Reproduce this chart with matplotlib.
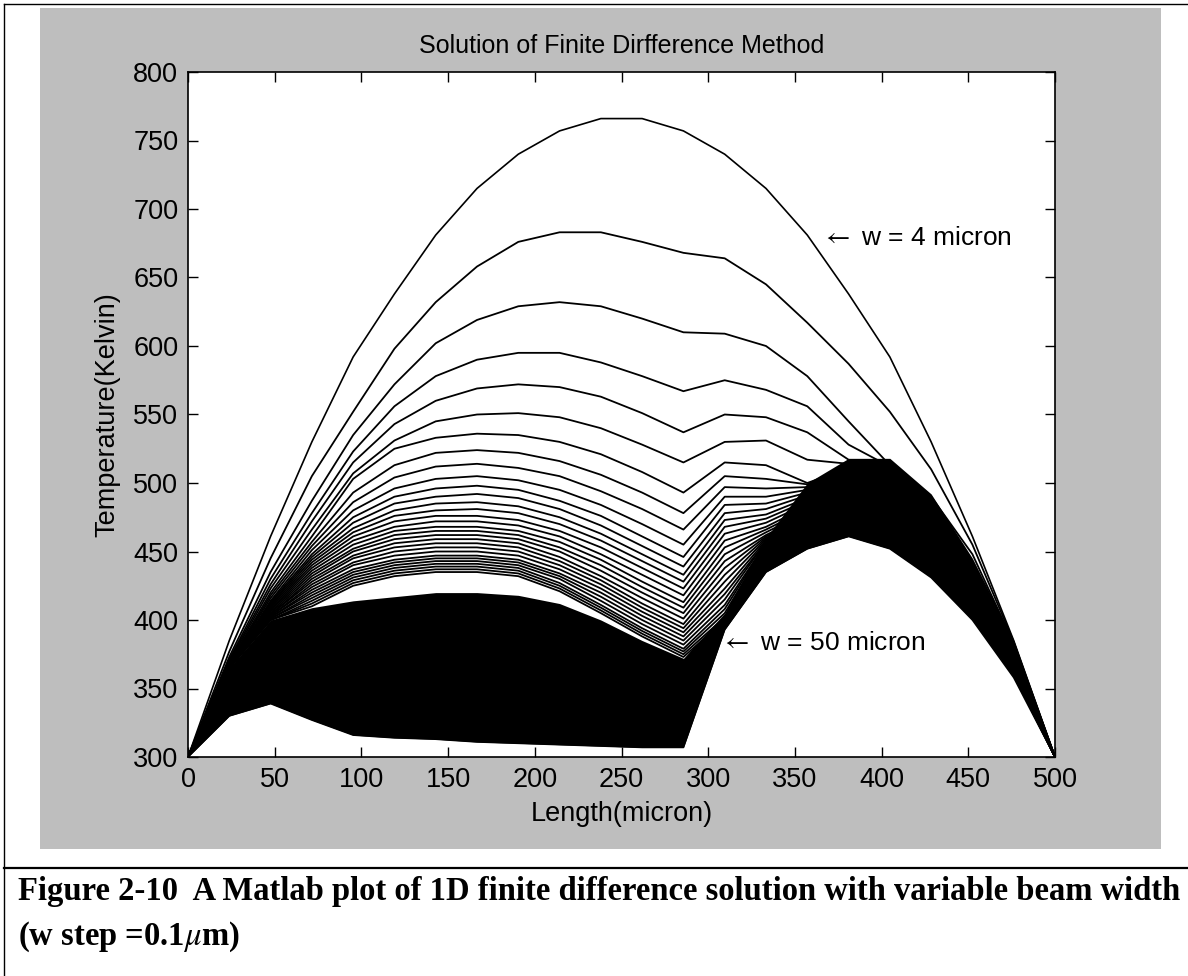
import numpy as np
import matplotlib
matplotlib.use("Agg")
import matplotlib.pyplot as plt
from matplotlib.patches import Rectangle
from matplotlib.lines import Line2D

plt.rcParams["font.family"] = ["Liberation Sans", "DejaVu Sans"]
plt.rcParams["mathtext.fontset"] = "stix"

# ── data: temperature (K) at the 22 finite-difference nodes along the beam ──
x_nodes = np.linspace(0, 500, 22)          # length (micron)

t_w4 = [300, 385, 461, 530, 592, 638, 681, 715, 740, 757, 766,
        766, 757, 740, 715, 681, 638, 592, 530, 461, 385, 300]

t_w50 = [300, 330, 339, 327, 316, 314, 313, 311, 310, 309, 308,
         307, 307, 393, 435, 452, 461, 452, 431, 400, 358, 300]

# upper edge of the band where the wide-beam curves pile up into solid black
t_dense_top = [300, 365, 400, 409, 414, 417, 420, 420, 418, 412, 400,
               385, 372, 405, 460, 500, 518, 518, 492, 445, 385, 300]

# intermediate widths, narrowest first
t_family = [
    [300, 377, 445, 505, 552, 598, 632, 658, 676, 683, 683, 676, 668, 664, 645, 617, 587, 552, 510, 455, 384, 300],
    [300, 373, 435, 487, 535, 572, 602, 619, 629, 632, 629, 620, 610, 609, 600, 578, 545, 513, 490, 448, 383, 300],
    [300, 371, 430, 478, 523, 556, 578, 590, 595, 595, 588, 578, 567, 575, 568, 556, 528, 512, 488, 443, 382, 300],
    [300, 370, 426, 472, 515, 543, 560, 569, 572, 570, 563, 551, 537, 550, 548, 537, 517, 510, 486, 441, 381, 300],
    [300, 369, 423, 466, 507, 531, 545, 550, 551, 548, 540, 528, 515, 530, 531, 517, 514, 508, 484, 439, 380, 300],
    [300, 368, 420, 461, 503, 525, 533, 536, 535, 530, 521, 508, 493, 515, 513, 500, 511, 506, 482, 437, 379, 300],
    [300, 367, 418, 457, 493, 513, 522, 524, 522, 516, 506, 493, 478, 505, 503, 499, 509, 504, 480, 436, 378, 300],
    [300, 367, 416, 454, 486, 504, 512, 514, 511, 505, 494, 481, 466, 497, 496, 497, 507, 502, 478, 434, 377, 300],
    [300, 366, 414, 451, 480, 496, 503, 505, 502, 495, 484, 470, 455, 490, 490, 495, 505, 500, 476, 433, 376, 300],
    [300, 366, 413, 448, 475, 490, 496, 498, 495, 487, 476, 461, 446, 484, 485, 493, 503, 498, 474, 431, 375, 300],
    [300, 366, 412, 446, 471, 485, 490, 492, 489, 481, 469, 454, 439, 478, 481, 491, 501, 496, 472, 430, 374, 300],
    [300, 365, 411, 444, 467, 480, 485, 486, 483, 475, 463, 448, 433, 473, 477, 489, 499, 494, 470, 428, 373, 300],
    [300, 365, 410, 442, 464, 476, 480, 481, 478, 470, 458, 443, 428, 468, 474, 487, 497, 492, 468, 427, 372, 300],
    [300, 365, 409, 440, 461, 472, 476, 476, 473, 465, 453, 438, 423, 463, 471, 485, 495, 490, 466, 425, 371, 300],
    [300, 365, 408, 438, 458, 468, 472, 472, 469, 461, 448, 433, 418, 458, 468, 483, 493, 488, 464, 424, 370, 300],
    [300, 365, 407, 436, 455, 465, 468, 468, 465, 457, 444, 428, 413, 453, 466, 481, 491, 486, 462, 422, 369, 300],
    [300, 365, 406, 434, 452, 462, 465, 465, 462, 453, 440, 424, 409, 448, 464, 479, 489, 484, 460, 421, 368, 300],
    [300, 365, 405, 432, 450, 459, 462, 462, 459, 450, 436, 420, 405, 443, 462, 477, 487, 482, 458, 419, 367, 300],
    [300, 365, 404, 430, 447, 456, 459, 459, 456, 446, 432, 416, 401, 438, 461, 475, 485, 480, 456, 418, 366, 300],
    [300, 365, 404, 428, 445, 453, 456, 456, 453, 443, 429, 412, 397, 433, 460, 473, 483, 478, 454, 416, 366, 300],
    [300, 365, 403, 426, 442, 450, 453, 453, 450, 440, 426, 409, 394, 428, 459, 471, 481, 476, 452, 415, 365, 300],
    [300, 365, 403, 424, 440, 447, 450, 450, 447, 437, 423, 406, 391, 423, 458, 469, 479, 474, 450, 413, 364, 300],
    [300, 365, 402, 422, 437, 444, 447, 447, 444, 434, 420, 403, 388, 419, 457, 467, 477, 472, 448, 412, 364, 300],
    [300, 365, 402, 420, 435, 442, 445, 445, 442, 432, 417, 400, 385, 415, 457, 465, 475, 470, 446, 410, 363, 300],
    [300, 365, 401, 418, 433, 440, 443, 443, 440, 430, 414, 397, 382, 411, 456, 463, 473, 468, 444, 409, 362, 300],
    [300, 365, 401, 416, 431, 438, 441, 441, 438, 427, 411, 394, 379, 408, 456, 461, 471, 466, 442, 407, 362, 300],
    [300, 365, 400, 414, 429, 436, 439, 439, 436, 425, 409, 392, 377, 405, 455, 459, 469, 464, 440, 406, 361, 300],
    [300, 365, 400, 412, 427, 434, 437, 437, 434, 423, 407, 390, 375, 402, 455, 457, 467, 462, 438, 404, 361, 300],
    [300, 365, 400, 410, 425, 432, 435, 435, 432, 421, 405, 388, 373, 400, 455, 455, 465, 460, 436, 403, 360, 300],
]

x_ticks = np.arange(0, 501, 50)
y_ticks = np.arange(300, 801, 50)

# ── page layout (pixel positions on a 1188 x 976 canvas) ──
W, H = 1188, 976
GRAY = "#bebebe"


def fx(px):
    return px / W


def fy(py):
    return 1 - py / H


fig = plt.figure(figsize=(W / 100, H / 100), dpi=100)
fig.patch.set_facecolor("white")

# table cell borders
fig.add_artist(Line2D([fx(4), 1], [fy(4), fy(4)], color="black", lw=1.0))
fig.add_artist(Line2D([fx(4), fx(4)], [fy(4), 0], color="black", lw=1.0))
fig.add_artist(Line2D([fx(4), 1], [fy(868), fy(868)], color="black", lw=1.6))

# grey matlab figure window
fig.add_artist(Rectangle((fx(40), fy(849)), fx(1161) - fx(40), fy(8) - fy(849),
                         facecolor=GRAY, edgecolor="none", zorder=-5))

ax = fig.add_axes([fx(188), fy(757), fx(1055) - fx(188), fy(72) - fy(757)])
ax.set_facecolor("white")

ax.fill_between(x_nodes, t_w50, t_dense_top, color="black", lw=0, zorder=2)
for row in t_family:
    ax.plot(x_nodes, row, color="black", lw=1.3, zorder=3)
ax.plot(x_nodes, t_w4, color="black", lw=1.2, zorder=3)
ax.plot(x_nodes, t_w50, color="black", lw=1.2, zorder=3)

ax.set_xlim(0, 500)
ax.set_ylim(300, 800)
ax.set_xticks(x_ticks)
ax.set_yticks(y_ticks)
ax.tick_params(direction="in", length=7, width=1.0, labelsize=19.5,
               top=True, right=True, pad=7)
for s in ax.spines.values():
    s.set_linewidth(1.2)

ax.set_title("Solution of Finite Dirfference Method", fontsize=18, pad=14)
ax.set_xlabel("Length(micron)", fontsize=19.5, labelpad=6)
ax.set_ylabel("Temperature(Kelvin)", fontsize=19.5, labelpad=9)

ax.text(365.6, 679, r"$\leftarrow$ w = 4 micron", fontsize=19, va="center", ha="left")
ax.text(307.2, 383, r"$\leftarrow$ w = 50 micron", fontsize=19, va="center", ha="left")

# caption under the figure
cap = dict(family=["Liberation Serif", "DejaVu Serif"], fontweight="bold", fontsize=23.5,
           ha="left", va="baseline")
fig.text(fx(18), fy(900), "Figure 2-10  A Matlab plot of 1D finite difference solution with variable beam width", **cap)
fig.text(fx(18), fy(945), r"(w step =0.1$\mu$m)", **cap)

fig.savefig("out.png", dpi=100)
